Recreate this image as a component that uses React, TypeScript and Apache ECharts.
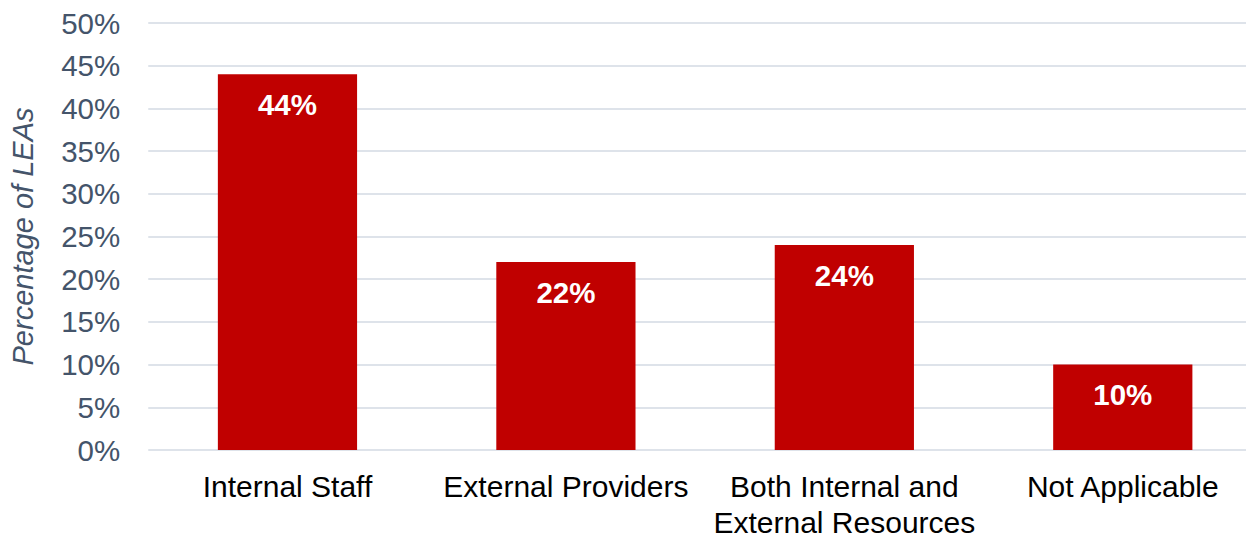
import React, { useEffect, useRef } from "react";
import * as echarts from "echarts";

const categories = [
  "Internal Staff",
  "External Providers",
  "Both Internal and\nExternal Resources",
  "Not Applicable",
];
const values = [44, 22, 24, 10];
const yTicks = { min: 0, max: 50, interval: 5 };
const axisTitle = "Percentage of LEAs";

export default function App() {
  const ref = useRef<HTMLDivElement>(null);
  useEffect(() => {
    if (!ref.current) return;
    const chart = echarts.init(ref.current, null, { renderer: "svg" });
    const font = "'Liberation Sans', Arial, sans-serif";
    chart.setOption({
      animation: false,
      backgroundColor: "#ffffff",
      grid: { left: 148.25, right: 0, top: 23, bottom: 80, containLabel: false },
      xAxis: {
        type: "category",
        data: categories,
        axisLine: { show: false },
        axisTick: { show: false },
        axisLabel: {
          color: "#000000",
          fontSize: 30,
          fontFamily: font,
          margin: 18,
          lineHeight: 36,
          interval: 0,
        },
      },
      yAxis: {
        type: "value",
        min: yTicks.min,
        max: yTicks.max,
        interval: yTicks.interval,
        name: axisTitle,
        nameLocation: "middle",
        nameGap: 111,
        nameTextStyle: {
          color: "#44546A",
          fontSize: 29,
          fontStyle: "italic",
          fontFamily: font,
        },
        axisLine: { show: false },
        axisTick: { show: false },
        axisLabel: {
          formatter: "{value}%",
          color: "#44546A",
          fontSize: 29.5,
          fontFamily: font,
          margin: 28,
        },
        splitLine: { lineStyle: { color: "#DEE3EA", width: 2 } },
      },
      series: [
        {
          type: "bar",
          data: values,
          barWidth: "50%",
          itemStyle: { color: "#C00000" },
          label: {
            show: true,
            position: "insideTop",
            distance: 15,
            formatter: "{c}%",
            color: "#ffffff",
            fontWeight: "bold",
            fontSize: 29.5,
            fontFamily: font,
          },
        },
      ],
    });
    return () => chart.dispose();
  }, []);
  return (
    <div
      style={{
        position: "fixed",
        left: 0,
        top: 0,
        width: 1246,
        height: 540,
        overflow: "hidden",
        background: "#ffffff",
      }}
    >
      <div ref={ref} style={{ width: 1262, height: 540 }} />
    </div>
  );
}
